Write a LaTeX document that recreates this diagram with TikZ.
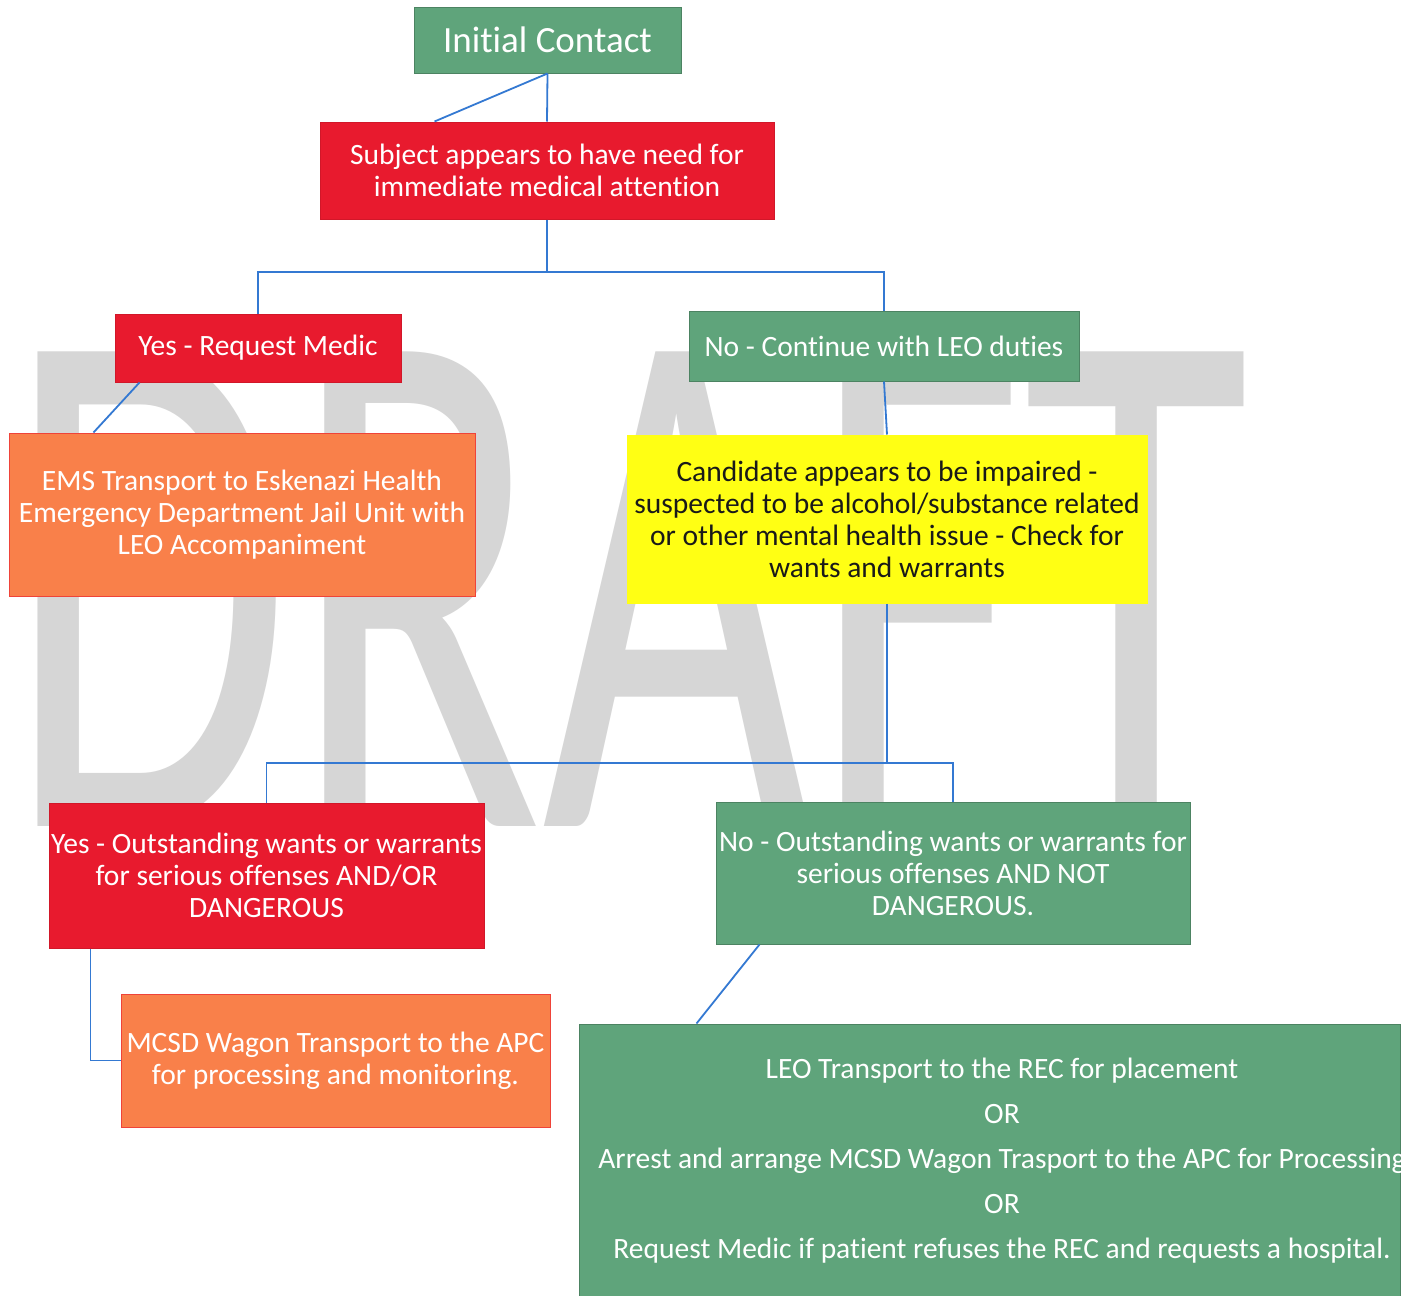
\documentclass[tikz,border=0pt]{standalone}
\usepackage{fontspec}
\setmainfont[Ligatures=NoCommon]{Carlito}
\usepackage{tikz}
\usepackage{graphicx}

\definecolor{boxgreen}{HTML}{5FA47B}
\definecolor{boxred}{HTML}{E81A2E}
\definecolor{boxorange}{HTML}{F9804A}
\definecolor{boxyellow}{HTML}{FFFF14}
\definecolor{linkblue}{HTML}{3479D2}

\begin{document}
\begin{tikzpicture}[x=1pt,y=-1pt,
  box/.style={rectangle,draw,line width=1pt,inner sep=0pt,align=center,
    text=white,font=\fontsize{29.5}{32}\selectfont},
  greenbox/.style={box,fill=boxgreen,draw=boxgreen!80!black},
  redbox/.style={box,fill=boxred,draw=boxred!90!black},
  orangebox/.style={box,fill=boxorange,draw=boxred!60!boxorange},
  yellowbox/.style={box,fill=boxyellow,draw=boxyellow,text=black!90},
  link/.style={draw=linkblue,line width=1.8pt}]
  \useasboundingbox (0,0) rectangle (1406,1296);
  \fill[white] (0,0) rectangle (1406,1296);
  \clip (0,0) rectangle (1406,1296);

  % watermark
  \node[inner sep=0pt,text=black!16] (draft) at (628,589)
    {\resizebox{1240pt}{474pt}{DRAFT}};

  \node[greenbox,minimum width=267pt,minimum height=66pt,
    font=\fontsize{37}{40}\selectfont] (init) at (547.5,40) {Initial Contact};
  \node[redbox,minimum width=454pt,minimum height=97pt] (subj) at (547,170.5)
    {Subject appears to have need for\\immediate medical attention};

  \node[redbox,minimum width=286pt,minimum height=68pt] (yesmedic) at (258,348)
    {Yes - Request Medic};
  \node[greenbox,minimum width=390pt,minimum height=70pt] (nocont) at (884,346)
    {No - Continue with LEO duties};

  \node[orangebox,minimum width=466pt,minimum height=163pt] (ems) at (242,514.5)
    {EMS Transport to Eskenazi Health\\Emergency Department Jail Unit with\\LEO Accompaniment};
  \node[yellowbox,minimum width=520pt,minimum height=168pt] (cand) at (887,519)
    {Candidate appears to be impaired -\\suspected to be alcohol/substance related\\or other mental health issue - Check for\\wants and warrants};

  \node[redbox,minimum width=435pt,minimum height=145pt] (yeswarr) at (266.5,875.5)
    {Yes - Outstanding wants or warrants\\for serious offenses AND/OR\\DANGEROUS};
  \node[greenbox,minimum width=474pt,minimum height=142pt] (nowarr) at (953,873)
    {No - Outstanding wants or warrants for\\serious offenses AND NOT\\DANGEROUS.};

  \node[orangebox,minimum width=429pt,minimum height=133pt] (mcsd) at (335.5,1060.5)
    {MCSD Wagon Transport to the APC\\for processing and monitoring.};
  \node[greenbox,minimum width=821pt,minimum height=274pt] (final) at (989.5,1161) {};
  \node[align=center,text=white,inner sep=0pt,
    font=\fontsize{29.5}{45}\selectfont] (finaltext) at (1002,1161)
    {LEO Transport to the REC for placement\\OR\\Arrest and arrange MCSD Wagon Trasport to the APC for Processing\\OR\\Request Medic if patient refuses the REC and requests a hospital.};

  % connectors
  \coordinate (split1) at (547,272);
  \coordinate (split2) at (887,763);
  \draw[link] (init.south) -- (subj.north);
  \draw[link] (init.south) -- ([xshift=115pt]subj.north west);
  \draw[link] (subj.south) -- (split1) -| (yesmedic.north);
  \draw[link] (split1) -| (nocont.north);
  \draw[link] ([xshift=25pt]yesmedic.south west) -- ([xshift=85pt]ems.north west);
  \draw[link] (nocont.south) -- (cand.north);
  \draw[link] (cand.south) -- (split2) -| (yeswarr.north);
  \draw[link] (split2) -| (nowarr.north);
  \draw[link] ([xshift=42pt]yeswarr.south west) |- (mcsd.west);
  \draw[link] ([xshift=44pt]nowarr.south west) -- ([xshift=118pt]final.north west);
\end{tikzpicture}
\end{document}
